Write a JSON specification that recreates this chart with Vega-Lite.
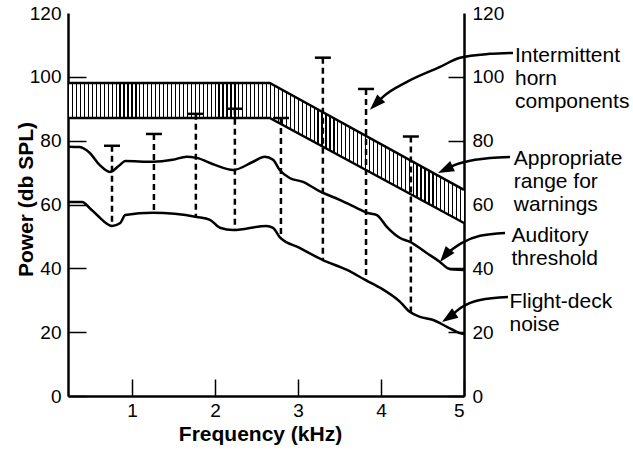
{
  "$schema": "https://vega.github.io/schema/vega-lite/v6.json",
  "width": 396,
  "height": 383,
  "autosize": "none",
  "padding": {"left": 68, "top": 13, "right": 169, "bottom": 61},
  "background": "white",
  "config": {"view": {"stroke": null}, "font": "Liberation Sans"},
  "datasets": {
    "band": [
      {"x": 0.23, "lo": 87.1, "hi": 98.1},
      {"x": 2.66, "lo": 87.1, "hi": 98.1},
      {"x": 5.0, "lo": 54.2, "hi": 64.6}
    ],
    "curves": [
      {"series": "Auditory threshold", "x": 0.23, "y": 78.1},
      {"series": "Auditory threshold", "x": 0.37, "y": 78.0},
      {"series": "Auditory threshold", "x": 0.49, "y": 76.2},
      {"series": "Auditory threshold", "x": 0.61, "y": 72.4},
      {"series": "Auditory threshold", "x": 0.735, "y": 70.2},
      {"series": "Auditory threshold", "x": 0.855, "y": 72.4},
      {"series": "Auditory threshold", "x": 0.92, "y": 73.6},
      {"series": "Auditory threshold", "x": 1.25, "y": 73.4},
      {"series": "Auditory threshold", "x": 1.49, "y": 74.0},
      {"series": "Auditory threshold", "x": 1.66, "y": 75.0},
      {"series": "Auditory threshold", "x": 1.78, "y": 74.6},
      {"series": "Auditory threshold", "x": 2.0, "y": 72.4},
      {"series": "Auditory threshold", "x": 2.22, "y": 70.8},
      {"series": "Auditory threshold", "x": 2.46, "y": 73.4},
      {"series": "Auditory threshold", "x": 2.6, "y": 75.0},
      {"series": "Auditory threshold", "x": 2.7, "y": 74.0},
      {"series": "Auditory threshold", "x": 2.78, "y": 70.8},
      {"series": "Auditory threshold", "x": 2.9, "y": 68.3},
      {"series": "Auditory threshold", "x": 3.06, "y": 67.1},
      {"series": "Auditory threshold", "x": 3.27, "y": 64.0},
      {"series": "Auditory threshold", "x": 3.51, "y": 61.4},
      {"series": "Auditory threshold", "x": 3.71, "y": 58.9},
      {"series": "Auditory threshold", "x": 3.83, "y": 57.4},
      {"series": "Auditory threshold", "x": 3.95, "y": 56.7},
      {"series": "Auditory threshold", "x": 4.07, "y": 53.0},
      {"series": "Auditory threshold", "x": 4.23, "y": 49.5},
      {"series": "Auditory threshold", "x": 4.35, "y": 48.3},
      {"series": "Auditory threshold", "x": 4.55, "y": 44.8},
      {"series": "Auditory threshold", "x": 4.71, "y": 42.0},
      {"series": "Auditory threshold", "x": 4.8, "y": 40.1},
      {"series": "Auditory threshold", "x": 4.88, "y": 39.6},
      {"series": "Auditory threshold", "x": 5.0, "y": 39.5},
      {"series": "Flight-deck noise", "x": 0.23, "y": 60.8},
      {"series": "Flight-deck noise", "x": 0.4, "y": 60.8},
      {"series": "Flight-deck noise", "x": 0.49, "y": 58.9},
      {"series": "Flight-deck noise", "x": 0.58, "y": 56.7},
      {"series": "Flight-deck noise", "x": 0.76, "y": 53.3},
      {"series": "Flight-deck noise", "x": 0.86, "y": 54.2},
      {"series": "Flight-deck noise", "x": 0.92, "y": 56.7},
      {"series": "Flight-deck noise", "x": 1.25, "y": 57.4},
      {"series": "Flight-deck noise", "x": 1.78, "y": 56.1},
      {"series": "Flight-deck noise", "x": 1.94, "y": 55.2},
      {"series": "Flight-deck noise", "x": 2.06, "y": 52.7},
      {"series": "Flight-deck noise", "x": 2.22, "y": 52.0},
      {"series": "Flight-deck noise", "x": 2.62, "y": 53.3},
      {"series": "Flight-deck noise", "x": 2.7, "y": 52.7},
      {"series": "Flight-deck noise", "x": 2.78, "y": 49.8},
      {"series": "Flight-deck noise", "x": 3.02, "y": 46.4},
      {"series": "Flight-deck noise", "x": 3.3, "y": 42.6},
      {"series": "Flight-deck noise", "x": 3.59, "y": 39.5},
      {"series": "Flight-deck noise", "x": 3.81, "y": 36.4},
      {"series": "Flight-deck noise", "x": 3.99, "y": 33.9},
      {"series": "Flight-deck noise", "x": 4.23, "y": 29.5},
      {"series": "Flight-deck noise", "x": 4.35, "y": 26.3},
      {"series": "Flight-deck noise", "x": 4.47, "y": 24.8},
      {"series": "Flight-deck noise", "x": 4.63, "y": 23.8},
      {"series": "Flight-deck noise", "x": 4.8, "y": 21.6},
      {"series": "Flight-deck noise", "x": 4.95, "y": 19.7},
      {"series": "Flight-deck noise", "x": 5.0, "y": 19.4}
    ],
    "horn": [
      {"x": 0.76, "top": 78.4, "bottom": 53.3},
      {"x": 1.265, "top": 82.1, "bottom": 57.4},
      {"x": 1.77, "top": 88.4, "bottom": 56.1},
      {"x": 2.24, "top": 90.0, "bottom": 52.0},
      {"x": 2.795, "top": 87.1, "bottom": 49.6},
      {"x": 3.3, "top": 106.0, "bottom": 42.6},
      {"x": 3.82, "top": 96.2, "bottom": 36.4},
      {"x": 4.36, "top": 81.3, "bottom": 26.3}
    ],
    "arrows": [
      {"id": "a1", "x": 5.59, "y": 107.5},
      {"id": "a1", "x": 5.313, "y": 107.2},
      {"id": "a1", "x": 4.952, "y": 106.0},
      {"id": "a1", "x": 4.711, "y": 103.1},
      {"id": "a1", "x": 4.313, "y": 98.4},
      {"id": "a1", "x": 4.024, "y": 93.7},
      {"id": "a1", "x": 3.952, "y": 91.8},
      {"id": "a2", "x": 5.554, "y": 74.9},
      {"id": "a2", "x": 5.313, "y": 74.6},
      {"id": "a2", "x": 5.133, "y": 74.0},
      {"id": "a2", "x": 4.892, "y": 72.4},
      {"id": "a2", "x": 4.795, "y": 71.3},
      {"id": "a3", "x": 5.494, "y": 51.1},
      {"id": "a3", "x": 5.193, "y": 50.2},
      {"id": "a3", "x": 4.976, "y": 48.0},
      {"id": "a3", "x": 4.783, "y": 44.5},
      {"id": "a4", "x": 5.53, "y": 31.0},
      {"id": "a4", "x": 5.193, "y": 30.1},
      {"id": "a4", "x": 4.976, "y": 27.9},
      {"id": "a4", "x": 4.835, "y": 24.9}
    ],
    "labels": [
      {"x": 5.614, "y": 110.0, "label": "Intermittent\nhorn\ncomponents"},
      {"x": 5.6, "y": 77.6, "label": "Appropriate\nrange for\nwarnings"},
      {"x": 5.572, "y": 53.5, "label": "Auditory\nthreshold"},
      {"x": 5.548, "y": 32.8, "label": "Flight-deck\nnoise"}
    ]
  },
  "layer": [
    {
      "layer": [
        {
          "data": {"name": "band"},
          "mark": {
            "type": "area",
            "stroke": null,
            "fill": {
              "gradient": "linear", "x1": 0, "y1": 0, "x2": 1, "y2": 0,
              "stops": [
{"offset":0,"color":"#000"},{"offset":0.003,"color":"#000"},{"offset":0.003,"color":"#fff"},{"offset":0.01,"color":"#fff"},
{"offset":0.01,"color":"#000"},{"offset":0.013,"color":"#000"},{"offset":0.013,"color":"#fff"},{"offset":0.02,"color":"#fff"},
{"offset":0.02,"color":"#000"},{"offset":0.023,"color":"#000"},{"offset":0.023,"color":"#fff"},{"offset":0.03,"color":"#fff"},
{"offset":0.03,"color":"#000"},{"offset":0.033,"color":"#000"},{"offset":0.033,"color":"#fff"},{"offset":0.04,"color":"#fff"},
{"offset":0.04,"color":"#000"},{"offset":0.043,"color":"#000"},{"offset":0.043,"color":"#fff"},{"offset":0.05,"color":"#fff"},
{"offset":0.05,"color":"#000"},{"offset":0.053,"color":"#000"},{"offset":0.053,"color":"#fff"},{"offset":0.06,"color":"#fff"},
{"offset":0.06,"color":"#000"},{"offset":0.063,"color":"#000"},{"offset":0.063,"color":"#fff"},{"offset":0.07,"color":"#fff"},
{"offset":0.07,"color":"#000"},{"offset":0.073,"color":"#000"},{"offset":0.073,"color":"#fff"},{"offset":0.08,"color":"#fff"},
{"offset":0.08,"color":"#000"},{"offset":0.083,"color":"#000"},{"offset":0.083,"color":"#fff"},{"offset":0.09,"color":"#fff"},
{"offset":0.09,"color":"#000"},{"offset":0.093,"color":"#000"},{"offset":0.093,"color":"#fff"},{"offset":0.1,"color":"#fff"},
{"offset":0.1,"color":"#000"},{"offset":0.103,"color":"#000"},{"offset":0.103,"color":"#fff"},{"offset":0.11,"color":"#fff"},
{"offset":0.11,"color":"#000"},{"offset":0.113,"color":"#000"},{"offset":0.113,"color":"#fff"},{"offset":0.12,"color":"#fff"},
{"offset":0.12,"color":"#000"},{"offset":0.123,"color":"#000"},{"offset":0.123,"color":"#fff"},{"offset":0.13,"color":"#fff"},
{"offset":0.13,"color":"#000"},{"offset":0.133,"color":"#000"},{"offset":0.133,"color":"#fff"},{"offset":0.14,"color":"#fff"},
{"offset":0.14,"color":"#000"},{"offset":0.143,"color":"#000"},{"offset":0.143,"color":"#fff"},{"offset":0.15,"color":"#fff"},
{"offset":0.15,"color":"#000"},{"offset":0.153,"color":"#000"},{"offset":0.153,"color":"#fff"},{"offset":0.16,"color":"#fff"},
{"offset":0.16,"color":"#000"},{"offset":0.163,"color":"#000"},{"offset":0.163,"color":"#fff"},{"offset":0.17,"color":"#fff"},
{"offset":0.17,"color":"#000"},{"offset":0.173,"color":"#000"},{"offset":0.173,"color":"#fff"},{"offset":0.18,"color":"#fff"},
{"offset":0.18,"color":"#000"},{"offset":0.183,"color":"#000"},{"offset":0.183,"color":"#fff"},{"offset":0.19,"color":"#fff"},
{"offset":0.19,"color":"#000"},{"offset":0.193,"color":"#000"},{"offset":0.193,"color":"#fff"},{"offset":0.2,"color":"#fff"},
{"offset":0.2,"color":"#000"},{"offset":0.203,"color":"#000"},{"offset":0.203,"color":"#fff"},{"offset":0.21,"color":"#fff"},
{"offset":0.21,"color":"#000"},{"offset":0.213,"color":"#000"},{"offset":0.213,"color":"#fff"},{"offset":0.22,"color":"#fff"},
{"offset":0.22,"color":"#000"},{"offset":0.223,"color":"#000"},{"offset":0.223,"color":"#fff"},{"offset":0.23,"color":"#fff"},
{"offset":0.23,"color":"#000"},{"offset":0.233,"color":"#000"},{"offset":0.233,"color":"#fff"},{"offset":0.24,"color":"#fff"},
{"offset":0.24,"color":"#000"},{"offset":0.243,"color":"#000"},{"offset":0.243,"color":"#fff"},{"offset":0.25,"color":"#fff"},
{"offset":0.25,"color":"#000"},{"offset":0.253,"color":"#000"},{"offset":0.253,"color":"#fff"},{"offset":0.26,"color":"#fff"},
{"offset":0.26,"color":"#000"},{"offset":0.263,"color":"#000"},{"offset":0.263,"color":"#fff"},{"offset":0.27,"color":"#fff"},
{"offset":0.27,"color":"#000"},{"offset":0.273,"color":"#000"},{"offset":0.273,"color":"#fff"},{"offset":0.28,"color":"#fff"},
{"offset":0.28,"color":"#000"},{"offset":0.283,"color":"#000"},{"offset":0.283,"color":"#fff"},{"offset":0.29,"color":"#fff"},
{"offset":0.29,"color":"#000"},{"offset":0.293,"color":"#000"},{"offset":0.293,"color":"#fff"},{"offset":0.3,"color":"#fff"},
{"offset":0.3,"color":"#000"},{"offset":0.303,"color":"#000"},{"offset":0.303,"color":"#fff"},{"offset":0.31,"color":"#fff"},
{"offset":0.31,"color":"#000"},{"offset":0.313,"color":"#000"},{"offset":0.313,"color":"#fff"},{"offset":0.32,"color":"#fff"},
{"offset":0.32,"color":"#000"},{"offset":0.323,"color":"#000"},{"offset":0.323,"color":"#fff"},{"offset":0.33,"color":"#fff"},
{"offset":0.33,"color":"#000"},{"offset":0.333,"color":"#000"},{"offset":0.333,"color":"#fff"},{"offset":0.34,"color":"#fff"},
{"offset":0.34,"color":"#000"},{"offset":0.343,"color":"#000"},{"offset":0.343,"color":"#fff"},{"offset":0.35,"color":"#fff"},
{"offset":0.35,"color":"#000"},{"offset":0.353,"color":"#000"},{"offset":0.353,"color":"#fff"},{"offset":0.36,"color":"#fff"},
{"offset":0.36,"color":"#000"},{"offset":0.363,"color":"#000"},{"offset":0.363,"color":"#fff"},{"offset":0.37,"color":"#fff"},
{"offset":0.37,"color":"#000"},{"offset":0.373,"color":"#000"},{"offset":0.373,"color":"#fff"},{"offset":0.38,"color":"#fff"},
{"offset":0.38,"color":"#000"},{"offset":0.383,"color":"#000"},{"offset":0.383,"color":"#fff"},{"offset":0.39,"color":"#fff"},
{"offset":0.39,"color":"#000"},{"offset":0.393,"color":"#000"},{"offset":0.393,"color":"#fff"},{"offset":0.4,"color":"#fff"},
{"offset":0.4,"color":"#000"},{"offset":0.403,"color":"#000"},{"offset":0.403,"color":"#fff"},{"offset":0.41,"color":"#fff"},
{"offset":0.41,"color":"#000"},{"offset":0.413,"color":"#000"},{"offset":0.413,"color":"#fff"},{"offset":0.42,"color":"#fff"},
{"offset":0.42,"color":"#000"},{"offset":0.423,"color":"#000"},{"offset":0.423,"color":"#fff"},{"offset":0.43,"color":"#fff"},
{"offset":0.43,"color":"#000"},{"offset":0.433,"color":"#000"},{"offset":0.433,"color":"#fff"},{"offset":0.44,"color":"#fff"},
{"offset":0.44,"color":"#000"},{"offset":0.443,"color":"#000"},{"offset":0.443,"color":"#fff"},{"offset":0.45,"color":"#fff"},
{"offset":0.45,"color":"#000"},{"offset":0.453,"color":"#000"},{"offset":0.453,"color":"#fff"},{"offset":0.46,"color":"#fff"},
{"offset":0.46,"color":"#000"},{"offset":0.463,"color":"#000"},{"offset":0.463,"color":"#fff"},{"offset":0.47,"color":"#fff"},
{"offset":0.47,"color":"#000"},{"offset":0.473,"color":"#000"},{"offset":0.473,"color":"#fff"},{"offset":0.48,"color":"#fff"},
{"offset":0.48,"color":"#000"},{"offset":0.483,"color":"#000"},{"offset":0.483,"color":"#fff"},{"offset":0.49,"color":"#fff"},
{"offset":0.49,"color":"#000"},{"offset":0.493,"color":"#000"},{"offset":0.493,"color":"#fff"},{"offset":0.5,"color":"#fff"},
{"offset":0.5,"color":"#000"},{"offset":0.503,"color":"#000"},{"offset":0.503,"color":"#fff"},{"offset":0.51,"color":"#fff"},
{"offset":0.51,"color":"#000"},{"offset":0.513,"color":"#000"},{"offset":0.513,"color":"#fff"},{"offset":0.52,"color":"#fff"},
{"offset":0.52,"color":"#000"},{"offset":0.523,"color":"#000"},{"offset":0.523,"color":"#fff"},{"offset":0.53,"color":"#fff"},
{"offset":0.53,"color":"#000"},{"offset":0.533,"color":"#000"},{"offset":0.533,"color":"#fff"},{"offset":0.54,"color":"#fff"},
{"offset":0.54,"color":"#000"},{"offset":0.543,"color":"#000"},{"offset":0.543,"color":"#fff"},{"offset":0.55,"color":"#fff"},
{"offset":0.55,"color":"#000"},{"offset":0.553,"color":"#000"},{"offset":0.553,"color":"#fff"},{"offset":0.56,"color":"#fff"},
{"offset":0.56,"color":"#000"},{"offset":0.563,"color":"#000"},{"offset":0.563,"color":"#fff"},{"offset":0.57,"color":"#fff"},
{"offset":0.57,"color":"#000"},{"offset":0.573,"color":"#000"},{"offset":0.573,"color":"#fff"},{"offset":0.58,"color":"#fff"},
{"offset":0.58,"color":"#000"},{"offset":0.583,"color":"#000"},{"offset":0.583,"color":"#fff"},{"offset":0.59,"color":"#fff"},
{"offset":0.59,"color":"#000"},{"offset":0.593,"color":"#000"},{"offset":0.593,"color":"#fff"},{"offset":0.6,"color":"#fff"},
{"offset":0.6,"color":"#000"},{"offset":0.603,"color":"#000"},{"offset":0.603,"color":"#fff"},{"offset":0.61,"color":"#fff"},
{"offset":0.61,"color":"#000"},{"offset":0.613,"color":"#000"},{"offset":0.613,"color":"#fff"},{"offset":0.62,"color":"#fff"},
{"offset":0.62,"color":"#000"},{"offset":0.623,"color":"#000"},{"offset":0.623,"color":"#fff"},{"offset":0.63,"color":"#fff"},
{"offset":0.63,"color":"#000"},{"offset":0.633,"color":"#000"},{"offset":0.633,"color":"#fff"},{"offset":0.64,"color":"#fff"},
{"offset":0.64,"color":"#000"},{"offset":0.643,"color":"#000"},{"offset":0.643,"color":"#fff"},{"offset":0.65,"color":"#fff"},
{"offset":0.65,"color":"#000"},{"offset":0.653,"color":"#000"},{"offset":0.653,"color":"#fff"},{"offset":0.66,"color":"#fff"},
{"offset":0.66,"color":"#000"},{"offset":0.663,"color":"#000"},{"offset":0.663,"color":"#fff"},{"offset":0.67,"color":"#fff"},
{"offset":0.67,"color":"#000"},{"offset":0.673,"color":"#000"},{"offset":0.673,"color":"#fff"},{"offset":0.68,"color":"#fff"},
{"offset":0.68,"color":"#000"},{"offset":0.683,"color":"#000"},{"offset":0.683,"color":"#fff"},{"offset":0.69,"color":"#fff"},
{"offset":0.69,"color":"#000"},{"offset":0.693,"color":"#000"},{"offset":0.693,"color":"#fff"},{"offset":0.7,"color":"#fff"},
{"offset":0.7,"color":"#000"},{"offset":0.703,"color":"#000"},{"offset":0.703,"color":"#fff"},{"offset":0.71,"color":"#fff"},
{"offset":0.71,"color":"#000"},{"offset":0.713,"color":"#000"},{"offset":0.713,"color":"#fff"},{"offset":0.72,"color":"#fff"},
{"offset":0.72,"color":"#000"},{"offset":0.723,"color":"#000"},{"offset":0.723,"color":"#fff"},{"offset":0.73,"color":"#fff"},
{"offset":0.73,"color":"#000"},{"offset":0.733,"color":"#000"},{"offset":0.733,"color":"#fff"},{"offset":0.74,"color":"#fff"},
{"offset":0.74,"color":"#000"},{"offset":0.743,"color":"#000"},{"offset":0.743,"color":"#fff"},{"offset":0.75,"color":"#fff"},
{"offset":0.75,"color":"#000"},{"offset":0.753,"color":"#000"},{"offset":0.753,"color":"#fff"},{"offset":0.76,"color":"#fff"},
{"offset":0.76,"color":"#000"},{"offset":0.763,"color":"#000"},{"offset":0.763,"color":"#fff"},{"offset":0.77,"color":"#fff"},
{"offset":0.77,"color":"#000"},{"offset":0.773,"color":"#000"},{"offset":0.773,"color":"#fff"},{"offset":0.78,"color":"#fff"},
{"offset":0.78,"color":"#000"},{"offset":0.783,"color":"#000"},{"offset":0.783,"color":"#fff"},{"offset":0.79,"color":"#fff"},
{"offset":0.79,"color":"#000"},{"offset":0.793,"color":"#000"},{"offset":0.793,"color":"#fff"},{"offset":0.8,"color":"#fff"},
{"offset":0.8,"color":"#000"},{"offset":0.803,"color":"#000"},{"offset":0.803,"color":"#fff"},{"offset":0.81,"color":"#fff"},
{"offset":0.81,"color":"#000"},{"offset":0.813,"color":"#000"},{"offset":0.813,"color":"#fff"},{"offset":0.82,"color":"#fff"},
{"offset":0.82,"color":"#000"},{"offset":0.823,"color":"#000"},{"offset":0.823,"color":"#fff"},{"offset":0.83,"color":"#fff"},
{"offset":0.83,"color":"#000"},{"offset":0.833,"color":"#000"},{"offset":0.833,"color":"#fff"},{"offset":0.84,"color":"#fff"},
{"offset":0.84,"color":"#000"},{"offset":0.843,"color":"#000"},{"offset":0.843,"color":"#fff"},{"offset":0.85,"color":"#fff"},
{"offset":0.85,"color":"#000"},{"offset":0.853,"color":"#000"},{"offset":0.853,"color":"#fff"},{"offset":0.86,"color":"#fff"},
{"offset":0.86,"color":"#000"},{"offset":0.863,"color":"#000"},{"offset":0.863,"color":"#fff"},{"offset":0.87,"color":"#fff"},
{"offset":0.87,"color":"#000"},{"offset":0.873,"color":"#000"},{"offset":0.873,"color":"#fff"},{"offset":0.88,"color":"#fff"},
{"offset":0.88,"color":"#000"},{"offset":0.883,"color":"#000"},{"offset":0.883,"color":"#fff"},{"offset":0.89,"color":"#fff"},
{"offset":0.89,"color":"#000"},{"offset":0.893,"color":"#000"},{"offset":0.893,"color":"#fff"},{"offset":0.9,"color":"#fff"},
{"offset":0.9,"color":"#000"},{"offset":0.903,"color":"#000"},{"offset":0.903,"color":"#fff"},{"offset":0.91,"color":"#fff"},
{"offset":0.91,"color":"#000"},{"offset":0.913,"color":"#000"},{"offset":0.913,"color":"#fff"},{"offset":0.92,"color":"#fff"},
{"offset":0.92,"color":"#000"},{"offset":0.923,"color":"#000"},{"offset":0.923,"color":"#fff"},{"offset":0.93,"color":"#fff"},
{"offset":0.93,"color":"#000"},{"offset":0.933,"color":"#000"},{"offset":0.933,"color":"#fff"},{"offset":0.94,"color":"#fff"},
{"offset":0.94,"color":"#000"},{"offset":0.943,"color":"#000"},{"offset":0.943,"color":"#fff"},{"offset":0.95,"color":"#fff"},
{"offset":0.95,"color":"#000"},{"offset":0.953,"color":"#000"},{"offset":0.953,"color":"#fff"},{"offset":0.96,"color":"#fff"},
{"offset":0.96,"color":"#000"},{"offset":0.963,"color":"#000"},{"offset":0.963,"color":"#fff"},{"offset":0.97,"color":"#fff"},
{"offset":0.97,"color":"#000"},{"offset":0.973,"color":"#000"},{"offset":0.973,"color":"#fff"},{"offset":0.98,"color":"#fff"},
{"offset":0.98,"color":"#000"},{"offset":0.983,"color":"#000"},{"offset":0.983,"color":"#fff"},{"offset":0.99,"color":"#fff"},
{"offset":0.99,"color":"#000"},{"offset":0.993,"color":"#000"},{"offset":0.993,"color":"#fff"},{"offset":1,"color":"#fff"}
              ]
            }
          },
          "encoding": {
            "x": {
              "field": "x", "type": "quantitative",
              "scale": {"domain": [0.23, 5], "nice": false, "zero": false},
              "axis": {
                "values": [1, 2, 3, 4, 5],
                "format": "d",
                "title": "Frequency (kHz)",
                "titleFont": "Liberation Sans", "titleFontSize": 21, "titleFontWeight": "bold", "titleColor": "#000",
                "titleX": 192, "titleY": 44, "titleBaseline": "alphabetic", "titleAlign": "center",
                "labelFont": "Liberation Sans", "labelFontSize": 19, "labelColor": "#000",
                "labelPadding": 22,
                "tickSize": -17, "tickWidth": 1.5, "tickColor": "#000",
                "domainColor": "#000", "domainWidth": 2.5, "grid": false
              }
            },
            "y": {
              "field": "hi", "type": "quantitative",
              "scale": {"domain": [0, 120], "nice": false},
              "axis": {
                "orient": "left",
                "values": [0, 20, 40, 60, 80, 100, 120],
                "title": "Power (db SPL)",
                "titleFont": "Liberation Sans", "titleFontSize": 21, "titleFontWeight": "bold", "titleColor": "#000",
                "titleAngle": -90, "titleBaseline": "alphabetic", "titleAlign": "center",
                "titleX": -36, "titleY": 186,
                "labelFont": "Liberation Sans", "labelFontSize": 19, "labelColor": "#000",
                "labelPadding": 25,
                "tickSize": -18, "tickWidth": 1.5, "tickColor": "#000",
                "tickOpacity": {"condition": {"test": "datum.value >= 120", "value": 0}, "value": 1},
                "domainColor": "#000", "domainWidth": 2.5, "grid": false
              }
            },
            "y2": {"field": "lo"}
          }
        },
        {
          "data": {"name": "band"},
          "mark": {"type": "line", "color": "#000", "strokeWidth": 2.5},
          "encoding": {
            "x": {"field": "x", "type": "quantitative", "scale": {"domain": [0.23, 5], "nice": false, "zero": false}},
            "y": {"field": "hi", "type": "quantitative", "scale": {"domain": [0, 120], "nice": false}}
          }
        },
        {
          "data": {"name": "band"},
          "mark": {"type": "line", "color": "#000", "strokeWidth": 2.5},
          "encoding": {
            "x": {"field": "x", "type": "quantitative", "scale": {"domain": [0.23, 5], "nice": false, "zero": false}},
            "y": {"field": "lo", "type": "quantitative", "scale": {"domain": [0, 120], "nice": false}}
          }
        },
        {
          "data": {"name": "horn"},
          "mark": {"type": "rule", "color": "#000", "strokeWidth": 2.5, "strokeDash": [6, 4]},
          "encoding": {
            "x": {"field": "x", "type": "quantitative", "scale": {"domain": [0.23, 5], "nice": false, "zero": false}},
            "y": {"field": "top", "type": "quantitative", "scale": {"domain": [0, 120], "nice": false}},
            "y2": {"field": "bottom"}
          }
        },
        {
          "data": {"name": "horn"},
          "mark": {"type": "tick", "orient": "horizontal", "color": "#000", "size": 16, "thickness": 2.5, "opacity": 1},
          "encoding": {
            "x": {"field": "x", "type": "quantitative", "scale": {"domain": [0.23, 5], "nice": false, "zero": false}},
            "y": {"field": "top", "type": "quantitative", "scale": {"domain": [0, 120], "nice": false}}
          }
        },
        {
          "data": {"name": "arrows"},
          "mark": {"type": "line", "color": "#000", "strokeWidth": 2.5, "interpolate": "monotone"},
          "encoding": {
            "x": {"field": "x", "type": "quantitative", "scale": {"domain": [0.23, 5], "nice": false, "zero": false}},
            "y": {"field": "y", "type": "quantitative", "scale": {"domain": [0, 120], "nice": false}},
            "detail": {"field": "id"}
          }
        },
        {
          "data": {"values": [{"x": 3.867, "y": 89.7}]},
          "mark": {"type": "point", "shape": "M0,0L-0.35,1L0.35,1Z", "size": 1024, "filled": true, "color": "#000", "opacity": 1, "strokeWidth": 0, "angle": 225},
          "encoding": {
            "x": {"field": "x", "type": "quantitative", "scale": {"domain": [0.23, 5], "nice": false, "zero": false}},
            "y": {"field": "y", "type": "quantitative", "scale": {"domain": [0, 120], "nice": false}}
          }
        },
        {
          "data": {"values": [{"x": 4.687, "y": 69.9}]},
          "mark": {"type": "point", "shape": "M0,0L-0.35,1L0.35,1Z", "size": 1024, "filled": true, "color": "#000", "opacity": 1, "strokeWidth": 0, "angle": 245},
          "encoding": {
            "x": {"field": "x", "type": "quantitative", "scale": {"domain": [0.23, 5], "nice": false, "zero": false}},
            "y": {"field": "y", "type": "quantitative", "scale": {"domain": [0, 120], "nice": false}}
          }
        },
        {
          "data": {"values": [{"x": 4.711, "y": 42.0}]},
          "mark": {"type": "point", "shape": "M0,0L-0.35,1L0.35,1Z", "size": 1024, "filled": true, "color": "#000", "opacity": 1, "strokeWidth": 0, "angle": 219},
          "encoding": {
            "x": {"field": "x", "type": "quantitative", "scale": {"domain": [0.23, 5], "nice": false, "zero": false}},
            "y": {"field": "y", "type": "quantitative", "scale": {"domain": [0, 120], "nice": false}}
          }
        },
        {
          "data": {"values": [{"x": 4.735, "y": 23.2}]},
          "mark": {"type": "point", "shape": "M0,0L-0.35,1L0.35,1Z", "size": 1024, "filled": true, "color": "#000", "opacity": 1, "strokeWidth": 0, "angle": 236},
          "encoding": {
            "x": {"field": "x", "type": "quantitative", "scale": {"domain": [0.23, 5], "nice": false, "zero": false}},
            "y": {"field": "y", "type": "quantitative", "scale": {"domain": [0, 120], "nice": false}}
          }
        },
        {
          "data": {"name": "labels"},
          "mark": {"type": "text", "align": "left", "baseline": "top", "font": "Liberation Sans", "fontSize": 21, "lineBreak": "\n", "lineHeight": 23, "color": "#000"},
          "encoding": {
            "x": {"field": "x", "type": "quantitative", "scale": {"domain": [0.23, 5], "nice": false, "zero": false}},
            "y": {"field": "y", "type": "quantitative", "scale": {"domain": [0, 120], "nice": false}},
            "text": {"field": "label"}
          }
        }
      ]
    },
    {
      "data": {"name": "curves"},
      "mark": {"type": "line", "color": "#000", "strokeWidth": 2.5, "interpolate": "monotone"},
      "encoding": {
        "x": {"field": "x", "type": "quantitative", "scale": {"domain": [0.23, 5], "nice": false, "zero": false}},
        "y": {
          "field": "y", "type": "quantitative",
          "scale": {"domain": [0, 120], "nice": false},
          "axis": {
            "orient": "right",
            "values": [0, 20, 40, 60, 80, 100, 120],
            "title": null,
            "labelFont": "Liberation Sans", "labelFontSize": 19, "labelColor": "#000",
            "labelPadding": 24,
            "tickSize": -16, "tickWidth": 1.5, "tickColor": "#000",
            "tickOpacity": {"condition": {"test": "datum.value >= 120", "value": 0}, "value": 1},
            "domainColor": "#000", "domainWidth": 2.5, "grid": false
          }
        },
        "detail": {"field": "series"}
      }
    }
  ],
  "resolve": {"scale": {"y": "independent"}}
}
